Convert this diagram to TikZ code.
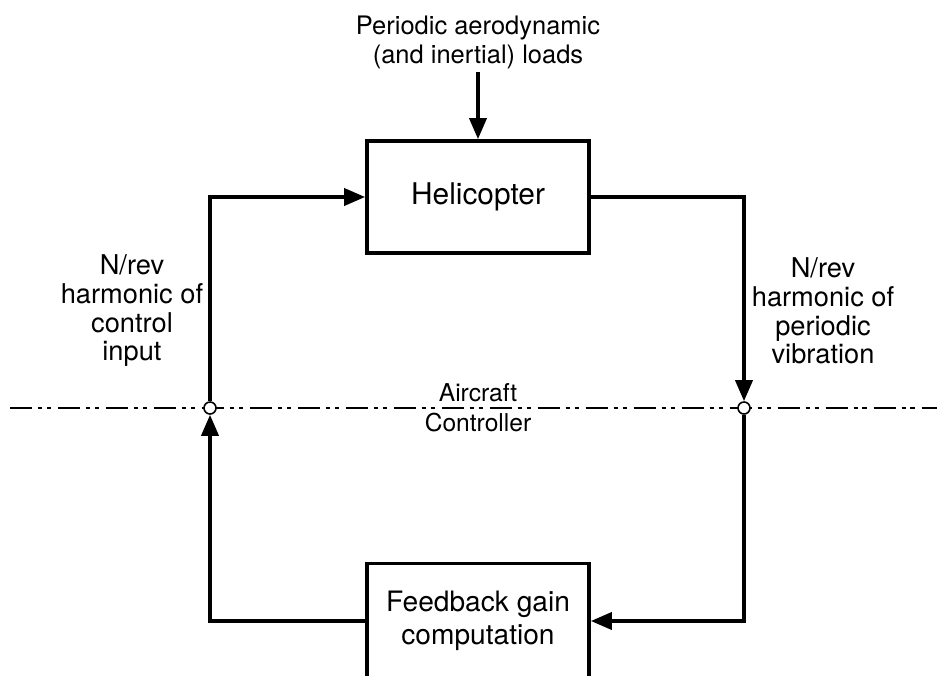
\documentclass[tikz,border=0pt]{standalone}
\usepackage{fontspec}
\setmainfont{TeX Gyre Heros}
\usetikzlibrary{arrows.meta}

\tikzset{
    block/.style={draw=black, line width=2.1pt, fill=white, minimum width=4.44cm, align=center},
    flow/.style={line width=2.1pt, -{Triangle[length=4.2mm, width=3.4mm]}},
    junction/.style={circle, draw=black, line width=0.9pt, fill=white, minimum size=0.24cm},
    tag/.style={align=center, font=\fontsize{14.5}{16.5}\selectfont},
    divider/.style={line width=1.1pt, dash pattern=on 12.5pt off 3.4pt on 2.3pt off 2.8pt on 2.3pt off 4pt}
}

\begin{document}
\begin{tikzpicture}[scale=0.2]
    \tikzstyle{every node}+=[inner sep=0pt]
    \clip (0,0) rectangle (93.7,-67.5);
    % aircraft / controller boundary
    \draw [divider] (1.0,-40.8) -- (93.7,-40.8);
    \node [tag, font=\fontsize{14}{17}\selectfont] (side) at (47.8,-40.8) {Aircraft\\Controller};
    % blocks
    \node [block, minimum height=2.24cm, font=\fontsize{17}{20}\selectfont] (heli) at (47.8,-19.7) {Helicopter};
    \node [block, minimum height=2.3cm, font=\fontsize{16}{18.5}\selectfont] (gain) at (47.8,-62.1) {Feedback gain\\computation};
    \node [junction] (jl) at (21.0,-40.8) {};
    \node [junction] (jr) at (74.4,-40.8) {};
    % labels
    \node [tag] (loads) at (47.8,-4.25) {Periodic aerodynamic\\(and inertial) loads};
    \coordinate (loadin) at (47.8,-7.2);
    \node [tag, font=\fontsize{15.5}{16.3}\selectfont] (ctrl) at (13.2,-31.1) {N/rev\\harmonic of\\control\\input};
    \node [tag, font=\fontsize{15.5}{16.3}\selectfont] (vib) at (82.3,-31.1) {N/rev\\harmonic of\\periodic\\vibration};
    % loop
    \draw [flow] (loadin) -- (heli.north);
    \draw [flow] (jl.north) |- (heli.west);
    \draw [flow] (heli.east) -| (jr.north);
    \draw [flow] (jr.south) |- (gain.east);
    \draw [flow] (gain.west) -| (jl.south);
\end{tikzpicture}
\end{document}
